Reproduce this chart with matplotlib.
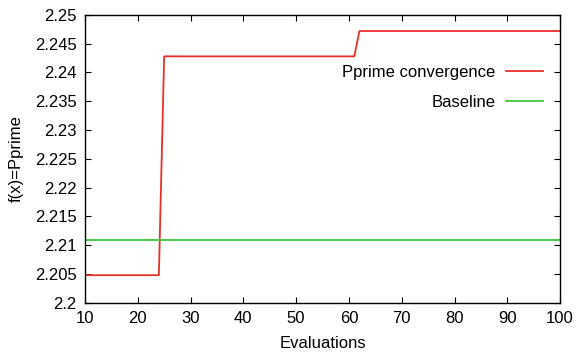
import matplotlib

matplotlib.use("Agg")

import matplotlib.pyplot as plt

# evaluations and best Pprime found so far (step changes)
evals = list(range(10, 101))
step_at = [10, 25, 62]
step_val = [2.2048, 2.2428, 2.2472]
baseline = 2.2109

pprime = []
for e in evals:
    v = step_val[0]
    for s, sv in zip(step_at, step_val):
        if e >= s:
            v = sv
    pprime.append(v)

plt.rcParams["font.family"] = ["Liberation Sans", "DejaVu Sans"]
plt.rcParams["font.size"] = 12

fig, ax = plt.subplots(figsize=(5.78, 3.55), dpi=100)
fig.subplots_adjust(left=0.147, right=0.969, top=0.958, bottom=0.147)

ax.plot(evals, pprime, color="#e8302a", lw=1.3, label="Pprime convergence")
ax.axhline(baseline, color="#3fc83a", lw=1.3, label="Baseline")

ax.set_xlim(10, 100)
ax.set_ylim(2.2, 2.25)
ax.set_xticks(range(10, 101, 10))
ax.set_yticks([2.2 + 0.005 * i for i in range(11)])
ax.set_yticklabels([f"{2.2 + 0.005 * i:g}" for i in range(11)])
ax.tick_params(direction="in", top=True, right=True, length=4, width=0.8, pad=6)
for sp in ax.spines.values():
    sp.set_linewidth(1.0)

ax.set_xlabel("Evaluations", labelpad=7)
ax.set_ylabel("f(x)=Pprime", labelpad=8)

ax.legend(loc="upper right", bbox_to_anchor=(0.995, 0.878), frameon=False,
          markerfirst=False, handlelength=2.2, handletextpad=0.65,
          labelspacing=0.9, fontsize=12)

fig.savefig("out.png", dpi=100)
